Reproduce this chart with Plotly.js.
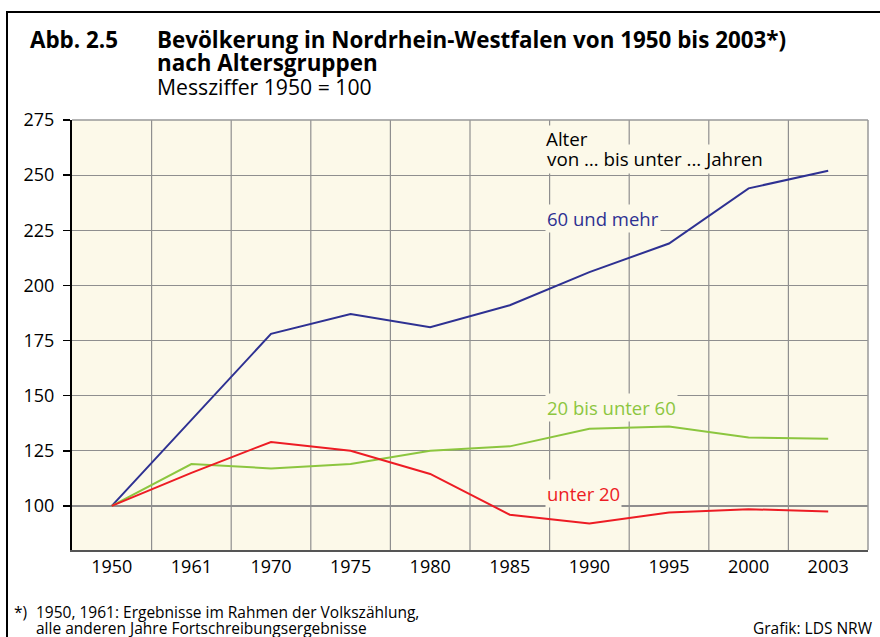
<!DOCTYPE html>
<html>
<head>
<meta charset="utf-8">
<script src="https://cdn.plot.ly/plotly-3.0.1.min.js"></script>
<style>
html,body{margin:0;padding:0;background:#fff;}
#wrap{position:relative;width:880px;height:637px;overflow:hidden;}
#chart{position:absolute;left:0;top:0;width:880px;height:637px;}
#frame{position:absolute;left:6px;top:11px;width:900px;height:700px;border-left:2px solid #000;border-top:2px solid #000;pointer-events:none;}
</style>
</head>
<body>
<div id="wrap"><div id="chart"></div><div id="frame"></div></div>
<script>
// ---- data ----
const years = ["1950","1961","1970","1975","1980","1985","1990","1995","2000","2003"];
const ue60 = [100, 139, 178, 187, 181, 191, 206, 219, 244, 252];
const bis60 = [100, 119, 117, 119, 125, 127, 135, 136, 131, 130.5];
const unter20 = [100, 115, 129, 125, 114.5, 96, 92, 97, 98.5, 97.5];
const yTicks = [100, 125, 150, 175, 200, 225, 250, 275];

const seriesNames = ["60 und mehr", "20 bis unter 60", "unter 20"];
const colors = ["#2e3192", "#8cc63f", "#ed1c24"];

// ---- layout helpers ----
const W = 880, H = 637, L = 72, R = 12, T = 120, B = 87;
const pw = W - L - R, ph = H - T - B;
const px = x => (x - L) / pw;
const py = y => (H - B - y) / ph;
const FONT = "Open Sans, Noto Sans, sans-serif";
const idx = years.map((_, i) => i);

const traces = [ue60, bis60, unter20].map((vals, k) => ({
  x: idx, y: vals, type: "scatter", mode: "lines",
  name: seriesNames[k], line: {color: colors[k], width: 2}, hoverinfo: "skip"
}));

const bg = "#fcf9e9";
function ann(text, x, y, opts) {
  return Object.assign({text: text, x: px(x), y: py(y), xref: "paper", yref: "paper",
    xanchor: "left", yanchor: "middle", showarrow: false,
    font: {family: FONT, size: 18.5, color: "#000"}}, opts || {});
}
const fnt = (s, c) => ({family: FONT, size: s, color: c || "#000"});

const annotations = [
  ann("<b>Abb. 2.5</b>", 28, 40, {font: fnt(22.4)}),
  ann("<b>Bevölkerung in Nordrhein-Westfalen von 1950 bis 2003*)</b>", 155, 40, {font: fnt(22.4)}),
  ann("<b>nach Altersgruppen</b>", 155, 62, {font: fnt(22.4)}),
  ann("Messziffer 1950 = 100", 155, 87, {font: fnt(21.2)}),
  ann("von … bis unter ... Jahren", 545, 159, {bgcolor: bg, font: fnt(18.8)}),
  ann("Alter", 545, 139, {bgcolor: bg, borderpad: 0, font: fnt(18.8)}),
  ann(seriesNames[0], 545, 218, {bgcolor: bg, font: fnt(18.5, colors[0])}),
  ann(seriesNames[1], 545, 407, {bgcolor: bg, font: fnt(18.5, colors[1])}),
  ann(seriesNames[2], 545, 493, {bgcolor: bg, font: fnt(18.5, colors[2])}),
  ann("*)", 12, 611.5, {font: fnt(15.5)}),
  ann("1950, 1961: Ergebnisse im Rahmen der Volkszählung,", 34, 611.5, {font: fnt(15.5)}),
  ann("alle anderen Jahre Fortschreibungsergebnisse", 34, 628, {font: fnt(15.5)}),
  ann("Grafik: LDS NRW", 875, 628, {xanchor: "right", font: fnt(15.5)})
];

// vertical grid lines between the year categories
const vgrid = idx.slice(0, -1).map(i => ({
  type: "line", xref: "x", yref: "paper", x0: i + 0.5, x1: i + 0.5, y0: 0, y1: 1,
  layer: "below", line: {color: "#8f8f8f", width: 1.2}
}));

const layout = {
  width: W, height: H,
  margin: {l: L, r: R, t: T, b: B, pad: 0},
  paper_bgcolor: "#fff", plot_bgcolor: bg,
  showlegend: false,
  font: {family: FONT, size: 18, color: "#000"},
  xaxis: {
    range: [-0.5, 9.5], tickmode: "array", tickvals: idx, ticktext: years,
    showgrid: false, zeroline: false,
    ticks: "", ticklabelstandoff: 0,
    tickfont: fnt(18),
    showline: true, linecolor: "#555", linewidth: 1.5, mirror: false,
    fixedrange: true
  },
  yaxis: {
    range: [80, 275], tickmode: "array", tickvals: yTicks,
    showgrid: true, gridcolor: "#8f8f8f", gridwidth: 1.2, zeroline: false,
    ticks: "outside", ticklen: 7, tickwidth: 1.5, tickcolor: "#000",
    ticklabelstandoff: 5,
    tickfont: fnt(18),
    showline: true, linecolor: "#000", linewidth: 2,
    fixedrange: true
  },
  shapes: vgrid.concat([
    {type: "line", xref: "paper", yref: "paper", x0: 0, x1: 1, y0: 1, y1: 1, line: {color: "#999", width: 1.5}},
    {type: "line", xref: "paper", yref: "paper", x0: 1, x1: 1, y0: 0, y1: 1, line: {color: "#999", width: 1.5}}
  ]),
  annotations: annotations
};

Plotly.newPlot("chart", traces, layout, {staticPlot: true, displayModeBar: false});
</script>
</body>
</html>
